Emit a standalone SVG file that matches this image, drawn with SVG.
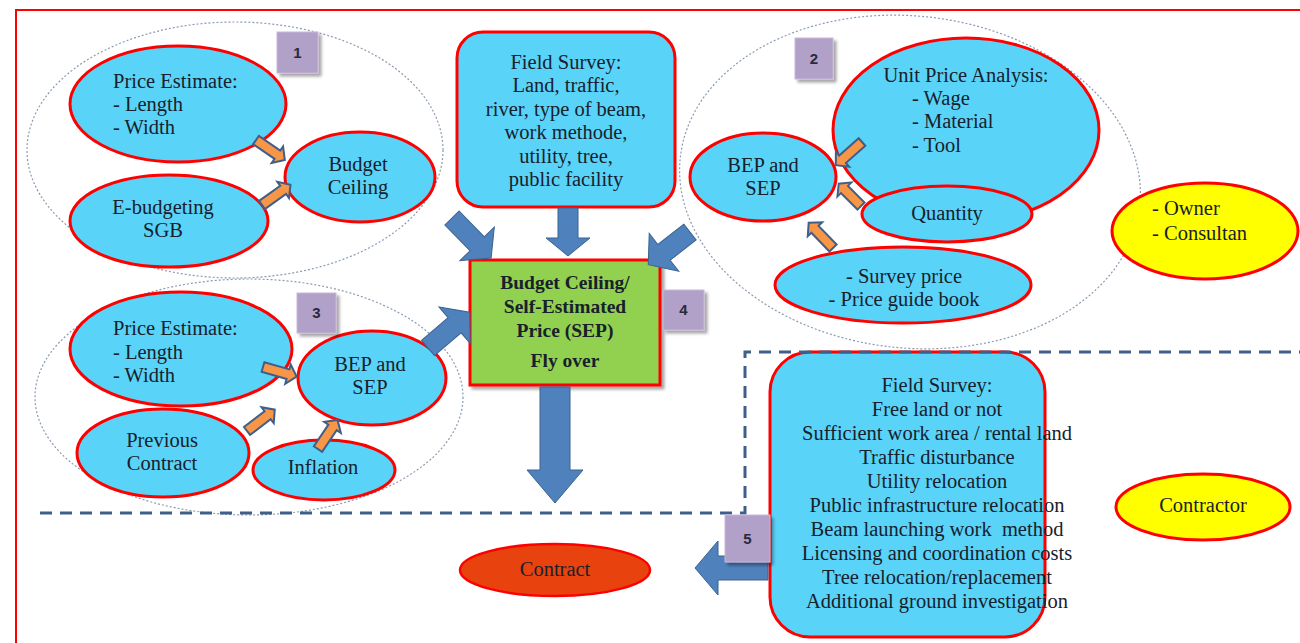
<svg xmlns="http://www.w3.org/2000/svg" width="1300" height="643" viewBox="0 0 1300 643">
<style>
text{font-family:"Liberation Serif","Times New Roman",serif;font-size:20.5px;fill:#17212b;text-anchor:middle}
.l{text-anchor:start}
.b{font-weight:bold}
.n{fill:#5ad3f9;stroke:#ff0000;stroke-width:3}
.y{fill:#ffff00;stroke:#ff0000;stroke-width:3}
.grp{fill:none;stroke:#8a9bb0;stroke-width:1.2;stroke-dasharray:2 2}
.num{fill:#b1a0c7;stroke:#c9b8da;stroke-width:1}
.numt{font-family:"Liberation Sans",Arial,sans-serif;font-size:15px;font-weight:bold;fill:#2a2a3a}
.ba{fill:#4f81bd;stroke:#3a6391;stroke-width:1}
.oa{fill:#f79646;stroke:#3f5f8a;stroke-width:2}
.dash{fill:none;stroke:#3f5f8a;stroke-width:3;stroke-dasharray:12 8}
</style>
<defs>
<filter id="sh" x="-10%" y="-10%" width="130%" height="130%"><feDropShadow dx="3" dy="3" stdDeviation="1.5" flood-color="#000" flood-opacity="0.35"/></filter>
<path id="oarrow" d="M0,-5 L26,-5 L26,-10 L35,0 L26,10 L26,5 L0,5 Z"/>
</defs>
<rect x="16" y="10" width="1300" height="650" fill="#fff" stroke="#ff0000" stroke-width="2"/>

<!-- group outlines -->
<ellipse class="grp" cx="235" cy="150" rx="208" ry="128"/>
<ellipse class="grp" cx="910" cy="182" rx="231" ry="166" transform="rotate(6 910 182)"/>
<ellipse class="grp" cx="249" cy="397" rx="214" ry="118"/>

<!-- group 1 -->
<g id="price1">
<ellipse class="n" cx="178" cy="104" rx="108" ry="58"/>
<text class="l" x="113" y="88">Price Estimate:</text>
<text class="l" x="113" y="111">- Length</text>
<text class="l" x="113" y="134">- Width</text>
</g>
<g id="ebudget">
<ellipse class="n" cx="169" cy="221" rx="99" ry="46"/>
<text x="163" y="214">E-budgeting</text>
<text x="163" y="237">SGB</text>
</g>
<g id="ceiling">
<ellipse class="n" cx="360" cy="177" rx="75" ry="45"/>
<text x="358" y="171">Budget</text>
<text x="358" y="194">Ceiling</text>
</g>
<g id="n1"><rect class="num" x="277" y="32" width="41" height="41" filter="url(#sh)"/><text class="numt" x="297.5" y="58">1</text></g>

<!-- field survey top -->
<g id="field1">
<rect class="n" x="457" y="32" width="218" height="175" rx="26"/>
<text x="566" y="69">Field Survey:</text>
<text x="566" y="92">Land, traffic,</text>
<text x="566" y="116">river, type of beam,</text>
<text x="566" y="139">work methode,</text>
<text x="566" y="163">utility, tree,</text>
<text x="566" y="186">public facility</text>
</g>

<!-- group 2 -->
<g id="unitprice">
<ellipse class="n" cx="966" cy="130" rx="133" ry="92"/>
<text x="966" y="82">Unit Price Analysis:</text>
<text class="l" x="912" y="105">- Wage</text>
<text class="l" x="912" y="128">- Material</text>
<text class="l" x="912" y="152">- Tool</text>
</g>
<g id="bep2">
<ellipse class="n" cx="763" cy="177" rx="73" ry="44"/>
<text x="763" y="172">BEP and</text>
<text x="763" y="195">SEP</text>
</g>
<g id="quantity">
<ellipse class="n" cx="947" cy="214" rx="85" ry="28"/>
<text x="947" y="220">Quantity</text>
</g>
<g id="survey">
<ellipse class="n" cx="903" cy="285" rx="128" ry="38"/>
<text x="904" y="283">- Survey price</text>
<text x="904" y="306">- Price guide book</text>
</g>
<g id="n2"><rect class="num" x="795" y="38" width="38" height="41" filter="url(#sh)"/><text class="numt" x="814" y="64">2</text></g>
<g id="owner">
<ellipse class="y" cx="1205" cy="231" rx="93" ry="48"/>
<text class="l" x="1152" y="215">- Owner</text>
<text class="l" x="1152" y="240">- Consultan</text>
</g>

<!-- group 3 -->
<g id="price3">
<ellipse class="n" cx="181" cy="349" rx="111" ry="57"/>
<text class="l" x="113" y="335">Price Estimate:</text>
<text class="l" x="113" y="359">- Length</text>
<text class="l" x="113" y="382">- Width</text>
</g>
<g id="bep3">
<ellipse class="n" cx="372" cy="378" rx="74" ry="47"/>
<text x="370" y="371">BEP and</text>
<text x="370" y="394">SEP</text>
</g>
<g id="previous">
<ellipse class="n" cx="163" cy="453" rx="86" ry="44"/>
<text x="162" y="447">Previous</text>
<text x="162" y="470">Contract</text>
</g>
<g id="inflation">
<ellipse class="n" cx="324" cy="470" rx="71" ry="30"/>
<text x="323" y="474">Inflation</text>
</g>
<g id="n3"><rect class="num" x="297" y="293" width="39" height="40" filter="url(#sh)"/><text class="numt" x="316.5" y="318">3</text></g>

<!-- SEP -->
<g id="sep">
<rect x="470" y="260" width="190" height="125" fill="#92d050" stroke="#ff0000" stroke-width="3" filter="url(#sh)"/>
<text class="b" x="565" y="289" style="font-size:19.5px">Budget Ceiling/</text>
<text class="b" x="565" y="313" style="font-size:19.5px">Self-Estimated</text>
<text class="b" x="565" y="337" style="font-size:19.5px">Price (SEP)</text>
<text class="b" x="565" y="367" style="font-size:19.5px">Fly over</text>
</g>
<g id="n4"><rect class="num" x="663" y="290" width="41" height="40" filter="url(#sh)"/><text class="numt" x="683.5" y="315">4</text></g>

<!-- contractor side -->
<g id="field2">
<rect class="n" x="770" y="352" width="275" height="285" rx="40"/>
<text x="937" y="392">Field Survey:</text>
<text x="937" y="416">Free land or not</text>
<text x="937" y="440">Sufficient work area / rental land</text>
<text x="937" y="464">Traffic disturbance</text>
<text x="937" y="488">Utility relocation</text>
<text x="937" y="512">Public infrastructure relocation</text>
<text x="937" y="536" xml:space="preserve">Beam launching work  method</text>
<text x="937" y="560">Licensing and coordination costs</text>
<text x="937" y="584">Tree relocation/replacement</text>
<text x="937" y="608">Additional ground investigation</text>
</g>
<g id="contractor">
<ellipse class="y" cx="1203" cy="507" rx="87" ry="33"/>
<text x="1203" y="512">Contractor</text>
</g>
<g id="contract">
<ellipse cx="555" cy="570" rx="95" ry="26" fill="#e8420e" stroke="#ff0000" stroke-width="2.5"/>
<text x="555" y="576">Contract</text>
</g>

<g id="connectors">
<!-- blue arrows -->
<path class="ba" transform="translate(452,218) rotate(45.7)" d="M0,-10 L36,-10 L36,-24 L56,0 L36,24 L36,10 L0,10 Z"/>
<path class="ba" transform="translate(568,208) rotate(90)" d="M0,-10 L30,-10 L30,-22 L48,0 L30,22 L30,10 L0,10 Z"/>
<path class="ba" transform="translate(690,232) rotate(142)" d="M0,-10 L33,-10 L33,-24 L53,0 L33,24 L33,10 L0,10 Z"/>
<path class="ba" transform="translate(428,348) rotate(-40.6)" d="M0,-10 L35,-10 L35,-24 L55,0 L35,24 L35,10 L0,10 Z"/>
<path class="ba" transform="translate(555,387) rotate(90)" d="M0,-15 L83,-15 L83,-28 L116,0 L83,28 L83,15 L0,15 Z"/>
<path class="ba" transform="translate(768,568) rotate(180)" d="M0,-12 L50,-12 L50,-27 L73,0 L50,27 L50,12 L0,12 Z"/>
<!-- orange arrows -->
<use href="#oarrow" class="oa" transform="translate(256,140) rotate(34.6)"/>
<use href="#oarrow" class="oa" transform="translate(262,205) rotate(-35.5)"/>
<use href="#oarrow" class="oa" transform="translate(862,142) rotate(138.5)"/>
<use href="#oarrow" class="oa" transform="translate(861,206) rotate(-135) scale(0.9 1)"/>
<use href="#oarrow" class="oa" transform="translate(833,248) rotate(-134)"/>
<use href="#oarrow" class="oa" transform="translate(263,367) rotate(16)"/>
<use href="#oarrow" class="oa" transform="translate(247,431) rotate(-37.5)"/>
<use href="#oarrow" class="oa" transform="translate(318,449) rotate(-56)"/>
</g>

<path class="dash" d="M40,513 L745,513 L745,352 L1300,352"/>
<g id="n5"><rect class="num" x="725" y="515" width="45" height="47" filter="url(#sh)"/><text class="numt" x="747.5" y="544">5</text></g>
</svg>
